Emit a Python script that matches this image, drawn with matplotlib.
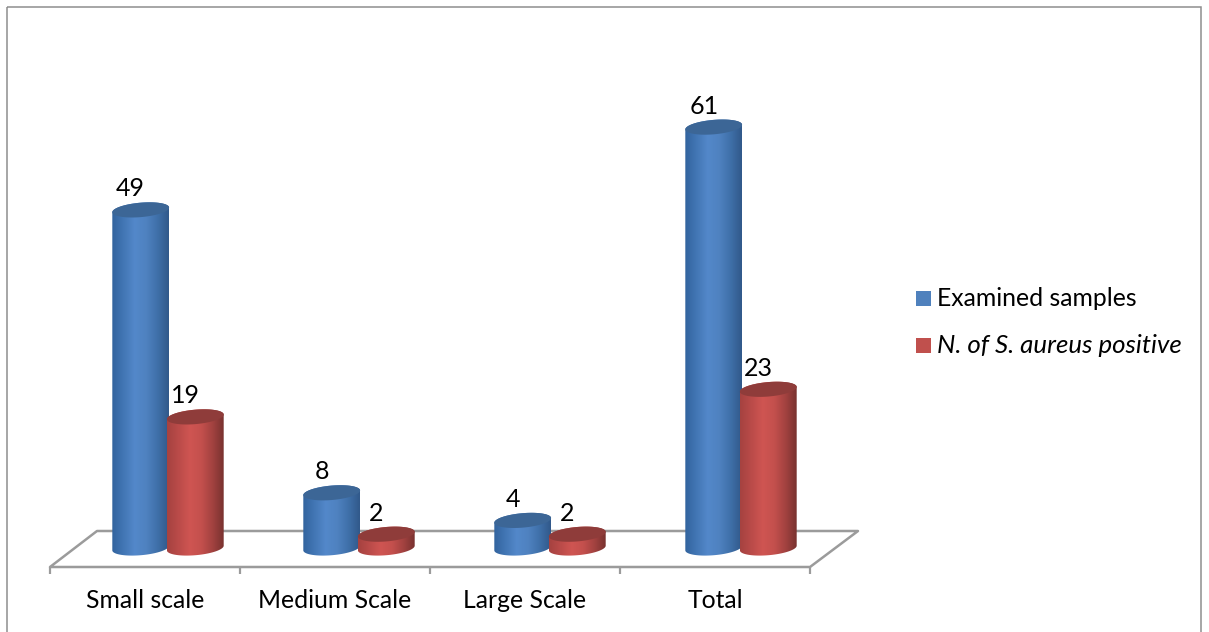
import matplotlib
matplotlib.use("Agg")
import matplotlib.pyplot as plt
import numpy as np
from matplotlib.colors import LinearSegmentedColormap
from matplotlib.patches import PathPatch, Polygon, Rectangle
from matplotlib.path import Path

plt.rcParams["font.family"] = ["Lato", "DejaVu Sans"]

categories = ["Small scale", "Medium Scale", "Large Scale", "Total"]
examined = [49, 8, 4, 61]
positive = [19, 2, 2, 23]
series_names = ["Examined samples", "N. of S. aureus positive"]

W, H = 1209, 632
GRAY = "#9b9b9b"
BLUE = "#4f81bd"
RED = "#c0504d"
blue_ramp = ["#32639e", "#4276b4", "#5388ca", "#4f82c0", "#3f70a9", "#31598a"]
red_ramp = ["#a54240", "#ba4b49", "#cf5552", "#c4504d", "#a34240", "#78322f"]
BLUE_TOP = "#3c6696"
RED_TOP = "#8f3c3a"

# chart scale: one category step and one value unit in pixels
STEP = 191.0
UNIT = 6.9
X0, Y0 = 168.0, 548.0
BAR_OFF = 27.3
RX, RY, TILT = 28.5, 7.2, np.radians(5)

fig = plt.figure(figsize=(W / 100, H / 100), dpi=100)
fig.patch.set_facecolor("white")

# frame, floor and legend sit in a plain pixel layer
deco = fig.add_axes([0, 0, 1, 1])
deco.set_xlim(0, W)
deco.set_ylim(H, 0)
deco.axis("off")

deco.add_patch(Rectangle((7, 7), 1194, 640, fill=False, edgecolor="#8e8e8e", linewidth=1.1))
deco.add_patch(Polygon([(50, 567), (810, 567), (858, 531), (97, 531)], closed=True,
                       fill=False, edgecolor=GRAY, linewidth=1.8, joinstyle="round"))
ticks = [50, 240, 430, 620, 810]
for tx in ticks:
    deco.plot([tx, tx], [567, 574], color=GRAY, linewidth=1.6, solid_capstyle="butt")

# category names are centred between the floor ticks
for i, name in enumerate(categories):
    deco.text((ticks[i] + ticks[i + 1]) / 2, 600, name, ha="center", va="center",
              fontsize=17.8, color="black")

legend_sizes = [17.8, 18.6]
for i, (name, col) in enumerate(zip(series_names, [BLUE, RED])):
    ly = 298.5 + i * 47
    deco.add_patch(Rectangle((915.5, ly - 7.5), 15, 15, facecolor=col, edgecolor="none"))
    deco.text(937, ly, name, ha="left", va="center", fontsize=legend_sizes[i], color="black",
              style="italic" if i == 1 else "normal")

# bars live in value coordinates
ax = fig.add_axes([0, 0, 1, 1])
ax.patch.set_alpha(0)
xlim = (-X0 / STEP, (W - X0) / STEP)
ylim = ((Y0 - H) / UNIT, Y0 / UNIT)
ax.axis("off")


def ring(cx, val, t):
    # tilted ellipse outline around (cx, val), sized in pixels
    dx = RX * np.cos(t) * np.cos(TILT) - RY * np.sin(t) * np.sin(TILT)
    dy = RX * np.cos(t) * np.sin(TILT) + RY * np.sin(t) * np.cos(TILT)
    return np.column_stack([cx + dx / STEP, val + dy / UNIT])


def cylinder(cx, val, ramp, top_color, z):
    cmap = LinearSegmentedColormap.from_list("cyl", ramp)
    lower = ring(cx, 0, np.linspace(np.pi, 2 * np.pi, 60))
    upper = ring(cx, val, np.linspace(0, np.pi, 60))
    outline = np.vstack([lower, upper, lower[:1]])
    body = PathPatch(Path(outline), transform=ax.transData, facecolor="none", edgecolor="none")
    ax.add_patch(body)
    left, right = outline[:, 0].min(), outline[:, 0].max()
    img = ax.imshow(np.linspace(0, 1, 256)[None, :], cmap=cmap, aspect="auto", zorder=z,
                    extent=(left, right, -2, val + 2), interpolation="bilinear")
    img.set_clip_path(body)
    cap = ring(cx, val, np.linspace(0, 2 * np.pi, 120))
    ax.add_patch(Polygon(cap, closed=True, facecolor=top_color, edgecolor="none", zorder=z + 0.1))


bar_off = BAR_OFF / STEP
for i in range(len(categories)):
    cylinder(i - bar_off, examined[i], blue_ramp, BLUE_TOP, 2 + i)
    cylinder(i + bar_off, positive[i], red_ramp, RED_TOP, 2.5 + i)
    for cx, val in [(i - bar_off, examined[i]), (i + bar_off, positive[i])]:
        ax.annotate(str(val), (cx, val), xytext=(-10, 21), textcoords="offset pixels",
                    ha="center", va="center", fontsize=18, color="black", zorder=10)

ax.set_xlim(xlim)
ax.set_ylim(ylim)

fig.savefig("out.png", dpi=100, facecolor="white")
